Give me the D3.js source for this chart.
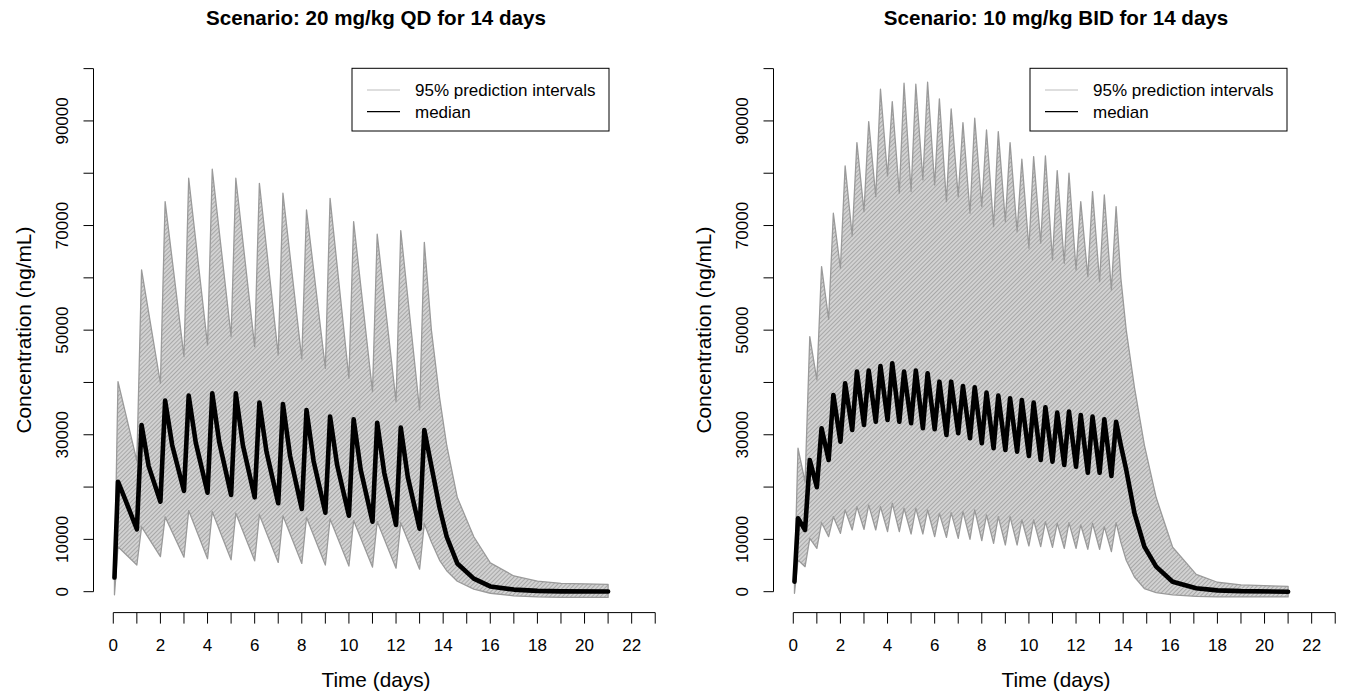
<!DOCTYPE html>
<html>
<head>
<meta charset="utf-8">
<script src="https://cdn.jsdelivr.net/npm/d3@7/dist/d3.min.js"></script>
<style>
  body { margin: 0; background: #fff; }
  svg { display: block; font-family: "Liberation Sans", Arial, Helvetica, sans-serif; }
</style>
</head>
<body>
<svg id="chart" width="1346" height="696"></svg>
<script>
// ---- data (ng/mL) ----
// 20 mg/kg QD: one dose per day
const qdDoseTimes = [0, 1, 2, 3, 4, 5, 6, 7, 8, 9, 10, 11, 12, 13];
const qdMedPeak   = [21030, 31870, 36520, 37480, 37930, 37930, 36140, 35890, 34740, 33460, 32960, 32310, 31360, 30920];
const qdMedMid    = [17700, 24000, 28000, 28500, 28500, 28000, 26800, 26000, 25000, 24200, 23300, 22700, 21900];
const qdMedTrough = [11930, 17210, 19250, 18930, 18490, 18040, 16900, 15810, 15110, 14530, 13380, 12750, 12050];
const qdUpPeak    = [40150, 61510, 74570, 79040, 80760, 79040, 78080, 76170, 72980, 75210, 70750, 68330, 69030, 66800];
const qdUpTrough  = [25000, 39850, 44930, 47170, 48760, 46850, 45260, 44500, 42710, 40800, 38240, 36330, 34740];
const qdLoPeak    = [8600, 12400, 14300, 15500, 15300, 15000, 14700, 14500, 14200, 13900, 13600, 13400, 13200, 13000];
const qdLoTrough  = [5100, 6700, 6600, 6300, 6100, 5900, 5600, 5400, 5100, 4900, 4700, 4500, 4300];
const qdStart     = { med: 2700, up: 3000, lo: -600 };
const qdTailTime  = [13.5, 13.85, 14.15, 14.6, 15.3, 16, 17, 18, 19, 21];
const qdTailMed   = [24000, 16000, 10500, 5400, 2500, 1000, 400, 150, 60, 20];
const qdTailUp    = [50000, 37000, 28000, 18000, 10500, 5500, 3000, 2000, 1600, 1400];
const qdTailLo    = [9500, 6000, 4000, 2000, 500, -300, -800, -1000, -1100, -1100];

// 10 mg/kg BID: two doses per day
const bidDoseTimes = [0, 0.5, 1, 1.5, 2, 2.5, 3, 3.5, 4, 4.5, 5, 5.5, 6, 6.5, 7, 7.5, 8, 8.5, 9, 9.5,
                      10, 10.5, 11, 11.5, 12, 12.5, 13, 13.5];
const bidMedPeak   = [14030, 25180, 31240, 37610, 39850, 42070, 42260, 43150, 43670, 42070, 42260, 41760, 40150, 40150,
                      39330, 39080, 38050, 37480, 36980, 36650, 36140, 35260, 34230, 34420, 33790, 33460, 32960, 32500];
const bidMedTrough = [11800, 19960, 25180, 28680, 30920, 31870, 32500, 32830, 32500, 32200, 31240, 31050, 29960, 30290,
                      29330, 28370, 27420, 27090, 26770, 25950, 25180, 24860, 24230, 23900, 22750, 22750, 22120];
const bidUpPeak    = [27420, 48760, 62140, 72350, 81400, 85850, 89870, 96060, 93690, 97210, 97010, 97400, 94210, 92290,
                      89670, 90520, 88280, 87950, 85850, 82680, 83170, 83310, 80500, 80000, 74570, 76480, 75850, 73610];
const bidUpTrough  = [21000, 40480, 52080, 61830, 68010, 72660, 75530, 79480, 76180, 76480, 78720, 77760, 74570, 75530,
                      72350, 73610, 69790, 70750, 68830, 65660, 66620, 63420, 62790, 61510, 60230, 59270, 57690];
const bidLoPeak    = [6060, 10210, 13190, 14340, 15620, 16250, 16570, 16250, 16900, 15950, 15950, 15620, 14990, 15100,
                      15300, 15620, 14670, 14340, 14340, 13710, 13710, 13380, 13080, 13190, 12750, 13080, 12430, 13190];
const bidLoTrough  = [4780, 8300, 10520, 11170, 11800, 11930, 11800, 11470, 11470, 11030, 11030, 10520, 10400, 10210,
                      10020, 9750, 9250, 8930, 8930, 8740, 8600, 8490, 8300, 8300, 8110, 8110, 7650];
const bidStart     = { med: 1900, up: 2500, lo: -300 };
const bidTailTime  = [13.9, 14.13, 14.48, 14.9, 15.4, 16.1, 17.1, 18, 19, 21];
const bidTailMed   = [28000, 23300, 15000, 8600, 4800, 1900, 650, 250, 100, 0];
const bidTailUp    = [60000, 50000, 39000, 28000, 18000, 8500, 3300, 1800, 1300, 1000];
const bidTailLo    = [9500, 6000, 2800, 600, -200, -600, -900, -1000, -1000, -1000];

// axis ticks / labels
const xTicks = d3.range(0, 24);            // tick every day, 0..23
const xLabels = [0, 2, 4, 6, 8, 10, 12, 14, 16, 18, 20, 22];
const yTicks = d3.range(0, 100001, 10000);
const yLabels = [0, 10000, 30000, 50000, 70000, 90000];
const legendItems = ["95% prediction intervals", "median"];

const START_T = 0.05;   // first sampling time
const PEAK_LAG = 0.2;   // time from dose to peak
const MID_LAG = 0.5;

const svg = d3.select("#chart");

// hatch pattern like R's polygon(density=...)
const defs = svg.append("defs");
const pat = defs.append("pattern")
    .attr("id", "hatch")
    .attr("patternUnits", "userSpaceOnUse")
    .attr("width", 3).attr("height", 3)
    .attr("patternTransform", "rotate(45)");
pat.append("rect").attr("width", 3).attr("height", 3).attr("fill", "#d2d2d2");
pat.append("line").attr("x1", 0).attr("y1", 0).attr("x2", 0).attr("y2", 3)
    .attr("stroke", "#868686").attr("stroke-width", 1.1);

function buildBand(p) {
    const rows = [{ t: START_T, lo: p.start.lo, hi: p.start.up }];
    p.doses.forEach((d, i) => {
        if (i > 0) rows.push({ t: d, lo: p.loTrough[i - 1], hi: p.upTrough[i - 1] });
        rows.push({ t: d + PEAK_LAG, lo: p.loPeak[i], hi: p.upPeak[i] });
    });
    p.tailTime.forEach((t, i) => rows.push({ t: t, lo: p.tailLo[i], hi: p.tailUp[i] }));
    return rows;
}

function buildMedian(p) {
    const rows = [{ t: START_T, v: p.start.med }];
    p.doses.forEach((d, i) => {
        if (i > 0) rows.push({ t: d, v: p.medTrough[i - 1] });
        rows.push({ t: d + PEAK_LAG, v: p.medPeak[i] });
        if (p.medMid && i < p.medMid.length) rows.push({ t: d + MID_LAG, v: p.medMid[i] });
    });
    p.tailTime.forEach((t, i) => rows.push({ t: t, v: p.tailMed[i] }));
    return rows;
}

function drawPanel(p) {
    const g = svg.append("g").attr("transform", `translate(${p.dx},0)`);

    // R style: 4% padding around the limits
    const x = d3.scaleLinear().domain([-0.84, 21.84]).range([93.5, 627.9]);
    const y = d3.scaleLinear().domain([-4000, 104000]).range([612.6, 47.7]);
    const midX = 376;

    const band = buildBand(p);
    const area = d3.area().x(d => x(d.t)).y0(d => y(d.lo)).y1(d => y(d.hi));
    g.append("path")
        .attr("d", area(band))
        .attr("fill", "url(#hatch)")
        .attr("stroke", "#9a9a9a")
        .attr("stroke-width", 1.3)
        .attr("stroke-linejoin", "round");

    const line = d3.line().x(d => x(d.t)).y(d => y(d.v));
    g.append("path")
        .attr("d", line(buildMedian(p)))
        .attr("fill", "none")
        .attr("stroke", "#000")
        .attr("stroke-width", 4.6)
        .attr("stroke-linejoin", "round")
        .attr("stroke-linecap", "round");

    // x axis (detached at bottom of plot region)
    const xa = g.append("g").attr("transform", `translate(0,${y(-4000)})`);
    xa.append("line").attr("x1", x(0)).attr("x2", x(23)).attr("stroke", "#000");
    xa.selectAll(".xt").data(xTicks).enter().append("line")
        .attr("x1", d => x(d)).attr("x2", d => x(d)).attr("y1", 0).attr("y2", 11)
        .attr("stroke", "#000");
    xa.selectAll(".xl").data(xLabels).enter().append("text")
        .attr("x", d => x(d)).attr("y", 38)
        .attr("text-anchor", "middle").attr("font-size", 17).text(d => d);

    // y axis
    const ya = g.append("g").attr("transform", `translate(${x(-0.84)},0)`);
    ya.append("line").attr("y1", y(0)).attr("y2", y(100000)).attr("stroke", "#000");
    ya.selectAll(".yt").data(yTicks).enter().append("line")
        .attr("y1", d => y(d)).attr("y2", d => y(d)).attr("x1", 0).attr("x2", -10)
        .attr("stroke", "#000");
    ya.selectAll(".yl").data(yLabels).enter().append("text")
        .attr("transform", d => `translate(-26,${y(d)}) rotate(-90)`)
        .attr("text-anchor", "middle").attr("font-size", 17).text(d => d);

    // titles
    g.append("text").attr("x", midX).attr("y", 25)
        .attr("text-anchor", "middle").attr("font-size", 20.6).attr("font-weight", "bold")
        .text(p.title);
    g.append("text").attr("x", midX).attr("y", 687)
        .attr("text-anchor", "middle").attr("font-size", 20.8).text("Time (days)");
    g.append("text")
        .attr("transform", `translate(31,${(47.7 + 612.6) / 2}) rotate(-90)`)
        .attr("text-anchor", "middle").attr("font-size", 20.8).text("Concentration (ng/mL)");

    // legend
    const lg = g.append("g").attr("transform", `translate(${p.legendX},68.3)`);
    lg.append("rect").attr("width", 257).attr("height", 62.7)
        .attr("fill", "#fff").attr("stroke", "#000").attr("stroke-width", 1);
    const lcol = ["#bdbdbd", "#000"];
    legendItems.forEach((txt, i) => {
        const ly = 21.7 + i * 21.7;
        lg.append("line").attr("x1", 15).attr("x2", 48).attr("y1", ly).attr("y2", ly)
            .attr("stroke", lcol[i]).attr("stroke-width", 1.2);
        lg.append("text").attr("x", 63).attr("y", ly + 6).attr("font-size", 17).text(txt);
    });
}

drawPanel({
    dx: 0, legendX: 352, title: "Scenario: 20 mg/kg QD for 14 days",
    doses: qdDoseTimes, start: qdStart,
    medPeak: qdMedPeak, medMid: qdMedMid, medTrough: qdMedTrough,
    upPeak: qdUpPeak, upTrough: qdUpTrough, loPeak: qdLoPeak, loTrough: qdLoTrough,
    tailTime: qdTailTime, tailMed: qdTailMed, tailUp: qdTailUp, tailLo: qdTailLo
});

drawPanel({
    dx: 680, legendX: 350, title: "Scenario: 10 mg/kg BID for 14 days",
    doses: bidDoseTimes, start: bidStart,
    medPeak: bidMedPeak, medMid: null, medTrough: bidMedTrough,
    upPeak: bidUpPeak, upTrough: bidUpTrough, loPeak: bidLoPeak, loTrough: bidLoTrough,
    tailTime: bidTailTime, tailMed: bidTailMed, tailUp: bidTailUp, tailLo: bidTailLo
});
</script>
</body>
</html>
